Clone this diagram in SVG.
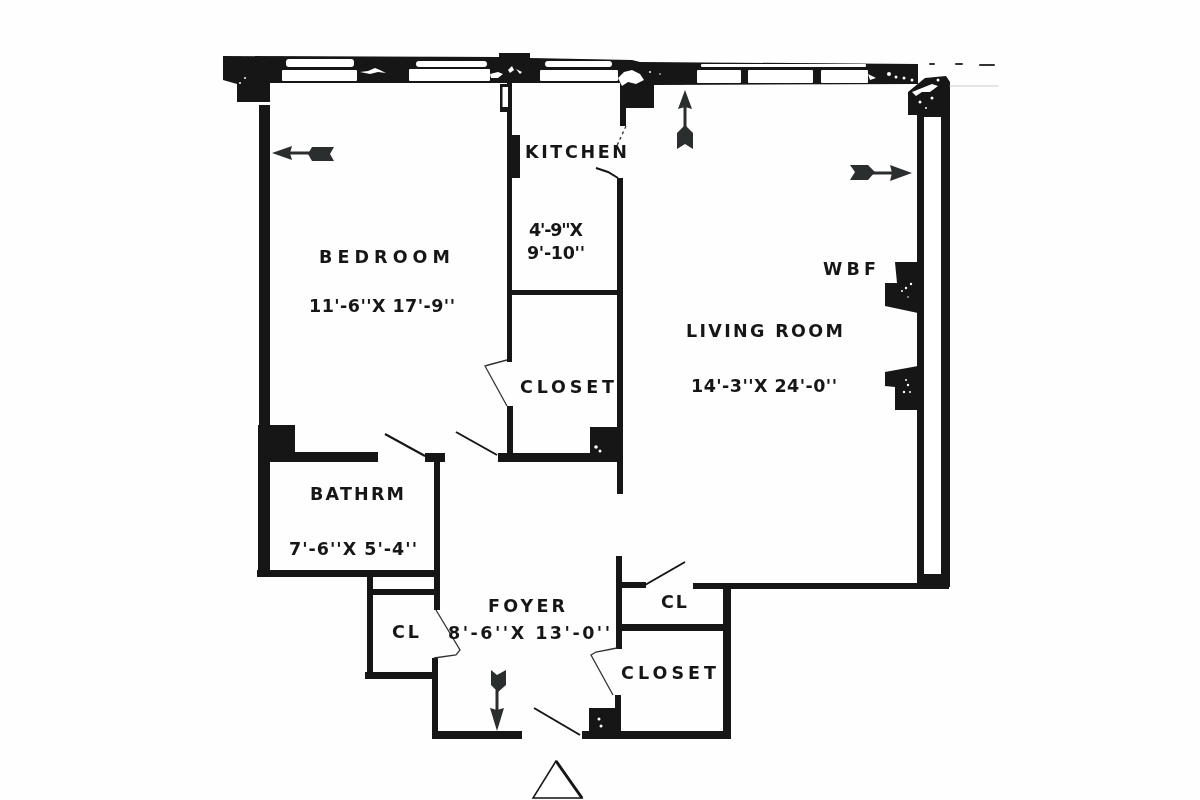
<svg xmlns="http://www.w3.org/2000/svg" width="1200" height="800" viewBox="0 0 1200 800">
<defs><filter id="soft" x="0" y="0" width="1200" height="800" filterUnits="userSpaceOnUse" primitiveUnits="userSpaceOnUse"><feGaussianBlur stdDeviation="0.55"/></filter></defs>
<style>
.w{fill:#141414}
.g{fill:#fff}
.leaf{stroke:#141414;stroke-width:2;fill:none}
.thin{stroke:#333;stroke-width:1.3;fill:none}
.arrow{fill:#2a2d2d}
.stem{stroke:#2a2d2d;stroke-width:3;fill:none}
text{font-family:"DejaVu Sans","Liberation Sans",Arial,sans-serif;font-weight:700;fill:#161616;font-size:17.500px}
</style>
<rect width="1200" height="800" fill="#fefefe"/>
<g filter="url(#soft)">
<g id="walls">
<path class="w" d="M223 56L499 57L499 53L530 53L530 58L632 60L640 62L918 64L918 84L654 85L654 108L620 108L620 83L270 83L270 102L237 102L237 84L223 80Z"/>
<rect class="w" x="259" y="105" width="11" height="320"/>
<rect class="w" x="258" y="425" width="12" height="152"/>
<rect class="w" x="268" y="425" width="27" height="37"/>
<rect class="w" x="268" y="452" width="110" height="10"/>
<rect class="w" x="257" y="570" width="182" height="7"/>
<rect class="w" x="507" y="82" width="5" height="280"/>
<rect class="w" x="500" y="84" width="12" height="28"/>
<rect class="g" x="502.500" y="87" width="5.500" height="20"/>
<rect class="w" x="512" y="135" width="8" height="43"/>
<rect class="w" x="507" y="406" width="6" height="50"/>
<rect class="w" x="498" y="453" width="125" height="9"/>
<rect class="w" x="620" y="105" width="6" height="21"/>
<rect class="w" x="617" y="178" width="6" height="316"/>
<rect class="w" x="512" y="290" width="106" height="5"/>
<rect class="w" x="590" y="427" width="30" height="30"/>
<rect class="w" x="425" y="453" width="20" height="9"/>
<rect class="w" x="434" y="462" width="6" height="148"/>
<rect class="w" x="367" y="577" width="6" height="102"/>
<rect class="w" x="373" y="589" width="64" height="6"/>
<rect class="w" x="365" y="672" width="71" height="7"/>
<rect class="w" x="432" y="658" width="6" height="81"/>
<rect class="w" x="432" y="731" width="90" height="8"/>
<rect class="w" x="616" y="556" width="6" height="93"/>
<rect class="w" x="620" y="582" width="26" height="6"/>
<rect class="w" x="620" y="624" width="105" height="7"/>
<rect class="w" x="693" y="583" width="256" height="6"/>
<rect class="w" x="723" y="587" width="8" height="152"/>
<rect class="w" x="615" y="695" width="6" height="40"/>
<rect class="w" x="589" y="708" width="32" height="28"/>
<rect class="w" x="582" y="731" width="149" height="8"/>
<path class="w" d="M908 115L908 92L925 78L946 76L950 82V587H917V115Z"/>
<rect class="g" x="924" y="117" width="17" height="457"/>
<path class="w" d="M895 262H918V313L885 306V283H897Z"/>
<path class="w" d="M885 372L918 366V410H895V387L885 386Z"/>
</g>
<g id="windows">
<rect class="g" x="286" y="59" width="68" height="8" rx="3"/>
<rect class="g" x="282" y="70" width="75" height="11" rx="1"/>
<rect class="g" x="416" y="61" width="71" height="6" rx="3"/>
<rect class="g" x="409" y="69" width="81" height="12" rx="1"/>
<rect class="g" x="545" y="61" width="67" height="6" rx="3"/>
<rect class="g" x="540" y="70" width="78" height="11" rx="1"/>
<rect class="g" x="701" y="64" width="165" height="3" rx="1"/>
<rect class="g" x="697" y="70" width="44" height="13" rx="1"/>
<rect class="g" x="748" y="70" width="65" height="13" rx="1"/>
<rect class="g" x="821" y="70" width="47" height="13" rx="1"/>
</g>
<g id="speckle" fill="#fff">
<path d="M360 72L368 71L375 68L380 70L386 73L378 72L370 74Z"/>
<path d="M490 74L498 72L503 74L498 78L491 78Z"/>
<path d="M508 70L512 66L514 70L510 73Z"/>
<path d="M516 69L522 72L520 74Z"/>
<path d="M618 78L624 72L632 70L640 74L644 80L636 84L628 82L622 86Z"/>
<circle cx="650" cy="72" r="1"/><circle cx="660" cy="74" r="0.800"/>
<path d="M868 74L876 78L870 80Z"/>
<circle cx="889" cy="74" r="2"/><circle cx="896" cy="77" r="1.500"/><circle cx="904" cy="78" r="1.500"/><circle cx="912" cy="80" r="1.500"/>
<path d="M912 92L922 88L932 84L938 86L930 92L922 92L916 96Z"/>
<circle cx="920" cy="102" r="1.500"/><circle cx="932" cy="98" r="1.500"/><circle cx="926" cy="108" r="1"/><circle cx="938" cy="80" r="1.500"/>
<circle cx="906" cy="288" r="1.200"/><circle cx="902" cy="291" r="1"/><circle cx="911" cy="284" r="1.200"/><circle cx="908" cy="297" r="0.800"/>
<circle cx="906" cy="380" r="1"/><circle cx="908" cy="385" r="1.200"/><circle cx="904" cy="392" r="1.200"/><circle cx="910" cy="392" r="1"/>
<circle cx="596" cy="447" r="1.800"/><circle cx="600" cy="451" r="1.500"/>
<circle cx="599" cy="719" r="1.500"/><circle cx="601" cy="726" r="1.500"/>
<circle cx="245" cy="78" r="1"/><circle cx="240" cy="83" r="1"/>
</g>
<g id="doors">
<path class="leaf" d="M385 434L425 456"/>
<path class="leaf" d="M456 432L497 455"/>
<path class="thin" d="M507 360L492 364L485 366L507 406"/>
<path class="thin" d="M626 126L615 150" stroke-dasharray="3 3"/>
<path class="leaf" d="M596 168L608 172L618 178"/>
<path class="thin" d="M436 610L460 650L456 655L434 658"/>
<path class="thin" d="M617 648L596 652L591 655L613 695"/>
<path class="leaf" d="M645 585L685 562"/>
<path class="leaf" d="M534 708L580 735"/>
</g>
<g id="faint" stroke-linecap="round">
<path d="M930 64L934 64M956 64L962 64M980 65L994 65" stroke="#333" stroke-width="2"/>
<path d="M950 86H998" stroke="#ccc" stroke-width="1"/>
</g>
<g id="arrows">
<g id="arrow-bedroom"><path class="stem" d="M285 153H315"/><path class="arrow" d="M272 153L292 146L290 153L292 160Z"/><path class="arrow" d="M312 147H334L330 154L334 161H312L308 154Z"/></g>
<g id="arrow-living"><path class="stem" d="M685 105V128"/><path class="arrow" d="M685 90L692 109L685 107L678 109Z"/><path class="arrow" d="M677 133L685 125L693 133V149L685 144L677 149Z"/></g>
<g id="arrow-east"><path class="stem" d="M870 173H895"/><path class="arrow" d="M912 173L890 181L892 173L890 165Z"/><path class="arrow" d="M850 165H868L875 172L868 180H850L855 172Z"/></g>
<g id="arrow-foyer"><path class="stem" d="M497 690V715"/><path class="arrow" d="M497 731L490 708L497 710L504 708Z"/><path class="arrow" d="M491 670L497 675L506 670V685L498 692L491 685Z"/></g>
</g>
<path id="north" d="M556 761L533 798H582Z" fill="#fff" stroke="#141414" stroke-width="1.500"/>
<path d="M556 761L582 798" stroke="#141414" stroke-width="3" fill="none"/>
<g id="labels">
<text x="319" y="263" textLength="131" lengthAdjust="spacing">BEDROOM</text>
<text x="309" y="312" textLength="146" lengthAdjust="spacing">11'-6''X 17'-9''</text>
<text x="525" y="158" textLength="102" lengthAdjust="spacing">KITCHEN</text>
<text x="529" y="236" textLength="54" lengthAdjust="spacing">4'-9''X</text>
<text x="527" y="259" textLength="58" lengthAdjust="spacing">9'-10''</text>
<text x="520" y="393" textLength="94" lengthAdjust="spacing">CLOSET</text>
<text x="686" y="337" textLength="157" lengthAdjust="spacing">LIVING ROOM</text>
<text x="691" y="392" textLength="146" lengthAdjust="spacing">14'-3''X 24'-0''</text>
<text x="823" y="275" textLength="53" lengthAdjust="spacing">WBF</text>
<text x="310" y="500" textLength="94" lengthAdjust="spacing">BATHRM</text>
<text x="289" y="555" textLength="128" lengthAdjust="spacing">7'-6''X 5'-4''</text>
<text x="488" y="612" textLength="77" lengthAdjust="spacing">FOYER</text>
<text x="448" y="639" textLength="162" lengthAdjust="spacing">8'-6''X 13'-0''</text>
<text x="392" y="638" textLength="27" lengthAdjust="spacing">CL</text>
<text x="661" y="608" textLength="26" lengthAdjust="spacing">CL</text>
<text x="621" y="679" textLength="95" lengthAdjust="spacing">CLOSET</text>
</g>
</g>
</svg>
